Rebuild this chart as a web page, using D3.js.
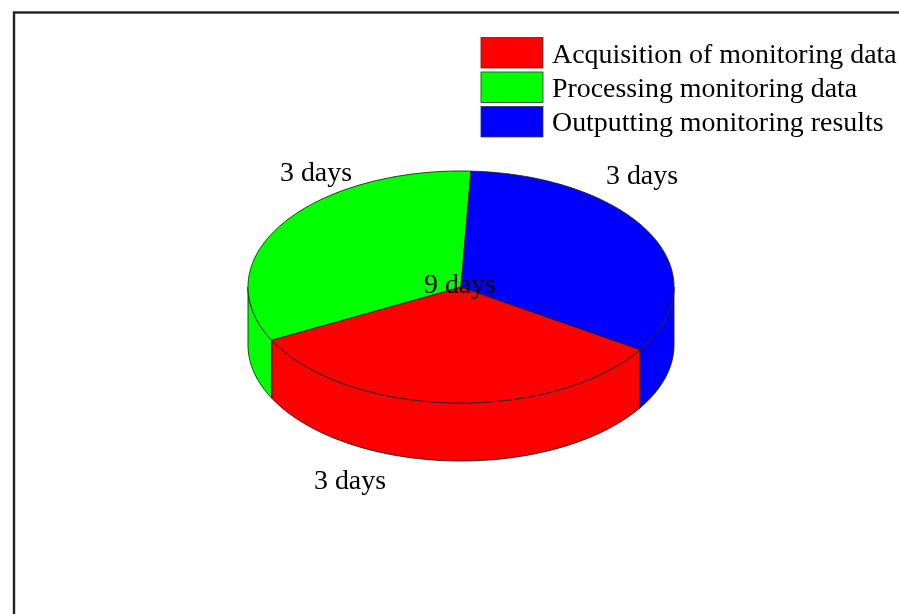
<!DOCTYPE html>
<html>
<head>
<meta charset="utf-8">
<script src="https://cdn.jsdelivr.net/npm/d3@7/dist/d3.min.js"></script>
<style>
html,body{margin:0;padding:0;background:#fff;overflow:hidden}
svg{display:block;filter:blur(0.45px)}
text{font-family:"Liberation Serif","Times New Roman",serif;fill:#000}
</style>
</head>
<body>
<svg id="chart" width="899" height="614"></svg>
<script>
// Data
const categories = ["Acquisition of monitoring data", "Processing monitoring data", "Outputting monitoring results"];
const durations = [3, 3, 3];
const sliceLabels = ["3 days", "3 days", "3 days"];
const totalLabel = "9 days";
const colours = ["#ff0000", "#00ff00", "#0000ff"];

// Layout
const W = 899, H = 614;
const cx = 461, cy = 287, rx = 213, ry = 116, depth = 58;
const startDeg = 122.7;
const labelAnchors = [[350, 489], [316, 181], [642, 184]];
const fontSize = 27.9;
const toRad = Math.PI / 180;

const svg = d3.select("#chart");

// Frame
svg.append("rect").attr("x", 14).attr("y", 12.5).attr("width", W + 20).attr("height", H + 20)
  .attr("fill", "#fff").attr("stroke", "#222").attr("stroke-width", 2.4);

// Scales mapping the unit circle on to the tilted ellipse
const xS = d3.scaleLinear().domain([-1, 1]).range([cx - rx, cx + rx]);
const yS = d3.scaleLinear().domain([-1, 1]).range([cy + ry, cy - ry]);

const pie = d3.pie().sort(null).value(d => d)
  .startAngle(startDeg * toRad).endAngle((startDeg + 360) * toRad);
const slices = pie(durations);

const line = d3.line();
const pt = (a, dy = 0) => [xS(Math.sin(a)), yS(Math.cos(a)) + dy];
const sweep = (a0, a1, dy = 0) => {
  const n = Math.max(2, Math.ceil(Math.abs(a1 - a0) / (toRad)));
  return d3.range(n + 1).map(i => pt(a0 + (a1 - a0) * i / n, dy));
};

// Outer wall: only the part of each slice that faces the viewer (PI/2..3PI/2)
const wallLo = Math.PI / 2, wallHi = 3 * Math.PI / 2;
const walls = [];
slices.forEach((s, i) => {
  [0, 2 * Math.PI].forEach(shift => {
    const a0 = Math.max(s.startAngle - shift, wallLo);
    const a1 = Math.min(s.endAngle - shift, wallHi);
    if (a1 > a0) walls.push({ i, a0, a1 });
  });
});
svg.append("g").selectAll("path").data(walls).join("path")
  .attr("d", d => line([...sweep(d.a0, d.a1), ...sweep(d.a1, d.a0, depth)]) + "Z")
  .attr("fill", d => colours[d.i])
  .attr("stroke", "#222").attr("stroke-width", 0.9).attr("stroke-linejoin", "round");

// Top face
svg.append("g").selectAll("path").data(slices).join("path")
  .attr("d", s => line([[cx, cy], ...sweep(s.startAngle, s.endAngle)]) + "Z")
  .attr("fill", (s, i) => colours[i])
  .attr("stroke", "#222").attr("stroke-width", 0.9).attr("stroke-linejoin", "round");

// Slice labels
svg.append("g").selectAll("text").data(sliceLabels).join("text")
  .attr("x", (d, i) => labelAnchors[i][0])
  .attr("y", (d, i) => labelAnchors[i][1])
  .attr("text-anchor", "middle").attr("font-size", fontSize)
  .text(d => d);

svg.append("text").attr("x", 460).attr("y", 293)
  .attr("text-anchor", "middle").attr("font-size", fontSize)
  .text(totalLabel);

// Legend
const legendY = d3.scaleBand().domain(categories).range([37.5, 137.5]).paddingInner(0.1).paddingOuter(0);
const legend = svg.append("g").selectAll("g").data(categories).join("g")
  .attr("transform", d => `translate(481,${legendY(d)})`);
legend.append("rect").attr("width", 62).attr("height", 30.5)
  .attr("fill", (d, i) => colours[i]).attr("stroke", "#333").attr("stroke-width", 0.8);
legend.append("text").attr("x", 71).attr("y", 25)
  .attr("font-size", fontSize).text(d => d);
</script>
</body>
</html>
